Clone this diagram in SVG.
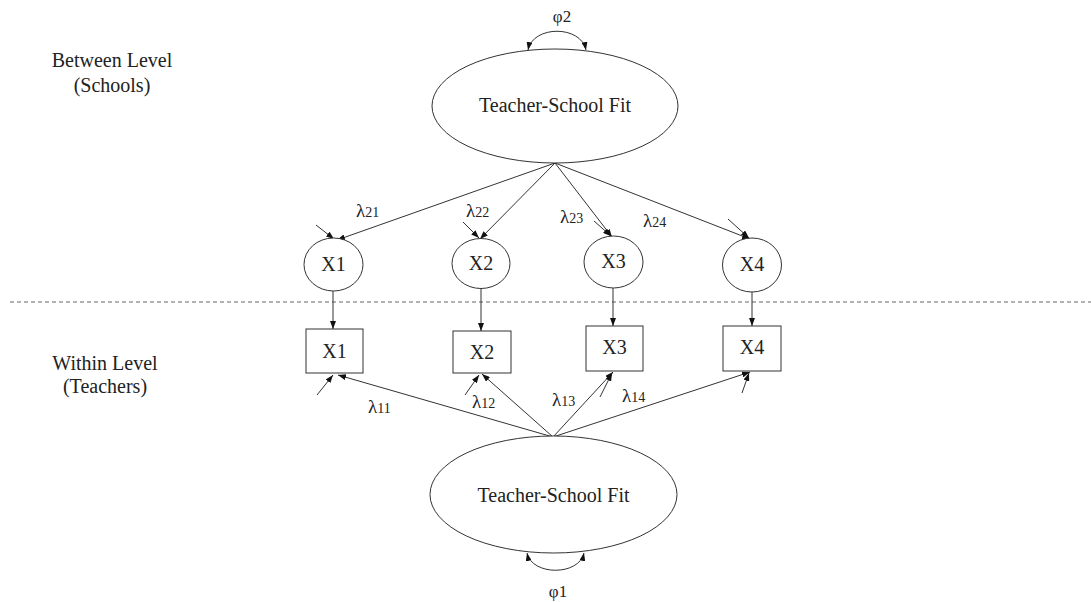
<svg xmlns="http://www.w3.org/2000/svg" width="1091" height="602" viewBox="0 0 1091 602">
  <defs>
    <marker id="arrow" viewBox="0 0 8 6" refX="8" refY="3" markerWidth="8" markerHeight="6" markerUnits="userSpaceOnUse" orient="auto-start-reverse">
      <path d="M0,0 L8,3 L0,6 z" fill="#111"/>
    </marker>
    <style>
      .shape { fill: #fff; stroke: #333; stroke-width: 1; }
      .edge { fill: none; stroke: #333; stroke-width: 1; marker-end: url(#arrow); }
      .cov { fill: none; stroke: #333; stroke-width: 1; marker-start: url(#arrow); marker-end: url(#arrow); }
      .divider { stroke: #666; stroke-width: 1; stroke-dasharray: 4 3; }
      text { font-family: "Liberation Serif", "Times New Roman", serif; fill: #222; }
      .big { font-size: 20px; text-anchor: middle; }
      .lam { font-size: 19px; }
      .sub { font-size: 14px; }
      .phi { font-size: 17px; text-anchor: middle; }
    </style>
  </defs>

  <rect width="1091" height="602" fill="#fff"/>

  <!-- level captions -->
  <g id="caption-between">
    <text class="big" x="112" y="67">Between Level</text>
    <text class="big" x="112" y="92">(Schools)</text>
  </g>
  <g id="caption-within">
    <text class="big" x="105" y="370">Within Level</text>
    <text class="big" x="105" y="393">(Teachers)</text>
  </g>

  <!-- separator between levels -->
  <line class="divider" x1="10" y1="302" x2="1091" y2="302"/>

  <!-- connectors -->
  <g id="connectors">
    <!-- between-level loadings -->
    <line class="edge" x1="555" y1="163" x2="337" y2="240"/>
    <line class="edge" x1="555" y1="163" x2="480" y2="239"/>
    <line class="edge" x1="555" y1="163" x2="612" y2="237"/>
    <line class="edge" x1="555" y1="163" x2="750" y2="239"/>
    <!-- between-level residuals -->
    <line class="edge" x1="316" y1="225" x2="334" y2="239"/>
    <line class="edge" x1="463" y1="222" x2="479" y2="238"/>
    <line class="edge" x1="594" y1="221" x2="611" y2="236"/>
    <line class="edge" x1="728" y1="219" x2="749" y2="238"/>
    <!-- random intercepts to indicators -->
    <line class="edge" x1="333" y1="291" x2="333" y2="329"/>
    <line class="edge" x1="481" y1="289" x2="481" y2="331"/>
    <line class="edge" x1="613" y1="288" x2="613" y2="326"/>
    <line class="edge" x1="752" y1="292" x2="752" y2="326"/>
    <!-- within-level loadings -->
    <line class="edge" x1="553" y1="437" x2="338" y2="375"/>
    <line class="edge" x1="553" y1="437" x2="482" y2="374"/>
    <line class="edge" x1="553" y1="437" x2="613" y2="372"/>
    <line class="edge" x1="553" y1="437" x2="750" y2="372"/>
    <!-- within-level residuals -->
    <line class="edge" x1="317" y1="395" x2="333" y2="375"/>
    <line class="edge" x1="465" y1="395" x2="479" y2="375"/>
    <line class="edge" x1="600" y1="397" x2="612" y2="373"/>
    <line class="edge" x1="742" y1="393" x2="749" y2="373"/>
    <!-- factor variances -->
    <path class="cov" d="M528,50 C533,25 581,25 586,50"/>
    <path class="cov" d="M527,553 C532,576 579,576 584,553"/>
  </g>

  <!-- loading labels -->
  <g id="labels">
    <text x="562" y="22" class="phi">φ2</text>
    <text x="558" y="597" class="phi">φ1</text>
    <text class="lam" x="356" y="217">λ<tspan class="sub">21</tspan></text>
    <text class="lam" x="466" y="217">λ<tspan class="sub">22</tspan></text>
    <text class="lam" x="560" y="223">λ<tspan class="sub">23</tspan></text>
    <text class="lam" x="643" y="227">λ<tspan class="sub">24</tspan></text>
    <text class="lam" x="368" y="413">λ<tspan class="sub">11</tspan></text>
    <text class="lam" x="472" y="408">λ<tspan class="sub">12</tspan></text>
    <text class="lam" x="552" y="406">λ<tspan class="sub">13</tspan></text>
    <text class="lam" x="622" y="402">λ<tspan class="sub">14</tspan></text>
  </g>

  <!-- between-level factor -->
  <g id="fit-between">
    <ellipse class="shape" cx="555" cy="106" rx="123" ry="57"/>
    <text class="big" x="555" y="112">Teacher-School Fit</text>
  </g>

  <!-- between-level random intercepts -->
  <g id="x1-between">
    <ellipse class="shape" cx="333.5" cy="264.5" rx="29.5" ry="26.5"/>
    <text class="big" x="333.5" y="271">X1</text>
  </g>
  <g id="x2-between">
    <ellipse class="shape" cx="481" cy="263.5" rx="29" ry="25"/>
    <text class="big" x="481" y="270">X2</text>
  </g>
  <g id="x3-between">
    <ellipse class="shape" cx="613.5" cy="262" rx="29.5" ry="26"/>
    <text class="big" x="613.5" y="268">X3</text>
  </g>
  <g id="x4-between">
    <ellipse class="shape" cx="752" cy="265" rx="29.5" ry="27"/>
    <text class="big" x="752" y="271">X4</text>
  </g>

  <!-- within-level observed indicators -->
  <g id="x1-within">
    <rect class="shape" x="306" y="329" width="57" height="44"/>
    <text class="big" x="334.5" y="358">X1</text>
  </g>
  <g id="x2-within">
    <rect class="shape" x="453" y="331" width="58" height="42"/>
    <text class="big" x="482" y="359">X2</text>
  </g>
  <g id="x3-within">
    <rect class="shape" x="586" y="326" width="57" height="45"/>
    <text class="big" x="614.5" y="354">X3</text>
  </g>
  <g id="x4-within">
    <rect class="shape" x="723" y="326" width="58" height="45"/>
    <text class="big" x="752" y="354">X4</text>
  </g>

  <!-- within-level factor -->
  <g id="fit-within">
    <ellipse class="shape" cx="553.5" cy="494.5" rx="123.5" ry="58.5"/>
    <text class="big" x="553.5" y="502">Teacher-School Fit</text>
  </g>
</svg>
